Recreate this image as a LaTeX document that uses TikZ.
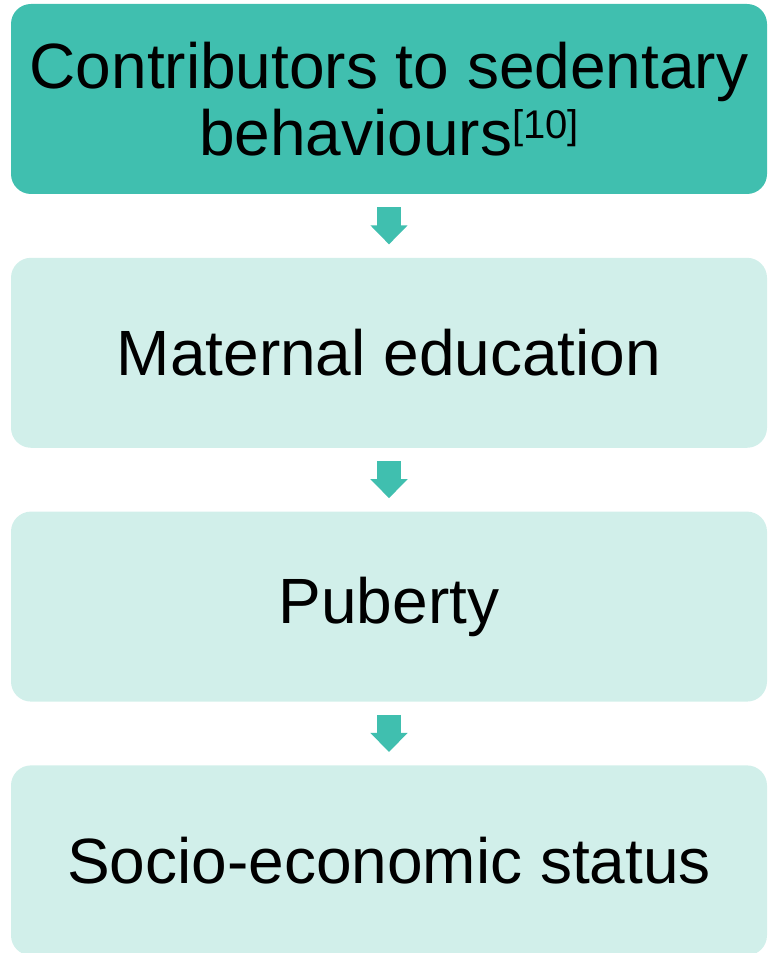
\documentclass[tikz,border=0pt]{standalone}
\usepackage{fontspec}
\setmainfont{Liberation Sans}
\usetikzlibrary{positioning, arrows.meta}
\definecolor{tealdark}{RGB}{64,191,175}
\definecolor{teallight}{RGB}{209,239,234}
\tikzstyle{Box} = [
rectangle,
rounded corners=10pt,
minimum width=378pt,
minimum height=95pt,
inner sep=0pt,
align=center,
font=\fontsize{32}{33.5}\selectfont]
\tikzstyle{Head} = [Box, fill=tealdark]
\tikzstyle{Item} = [Box, fill=teallight]
\tikzstyle{Arrow} = [
line width=12pt, draw=tealdark,
-{Triangle[width=18pt, length=9.5pt]},
shorten <= 6.5pt, shorten >= 6.5pt]

\begin{document}
\begin{tikzpicture}[node distance=31.5pt]
    \useasboundingbox (0,0) rectangle (384pt,476.5pt);
    \node [Head] (contrib) at (194.5pt,427pt) {Contributors to sedentary\\behaviours\raisebox{8.5pt}{\fontsize{20}{20}\selectfont[10]}};
    \node [Item, below =of contrib] (maternal) {Maternal education};
    \node [Item, below =of maternal] (puberty) {Puberty};
    \node [Item, below =of puberty] (status) {Socio-economic status};
    \draw[Arrow] (contrib) to (maternal);
    \draw[Arrow] (maternal) to (puberty);
    \draw[Arrow] (puberty) to (status);
\end{tikzpicture}
\end{document}
